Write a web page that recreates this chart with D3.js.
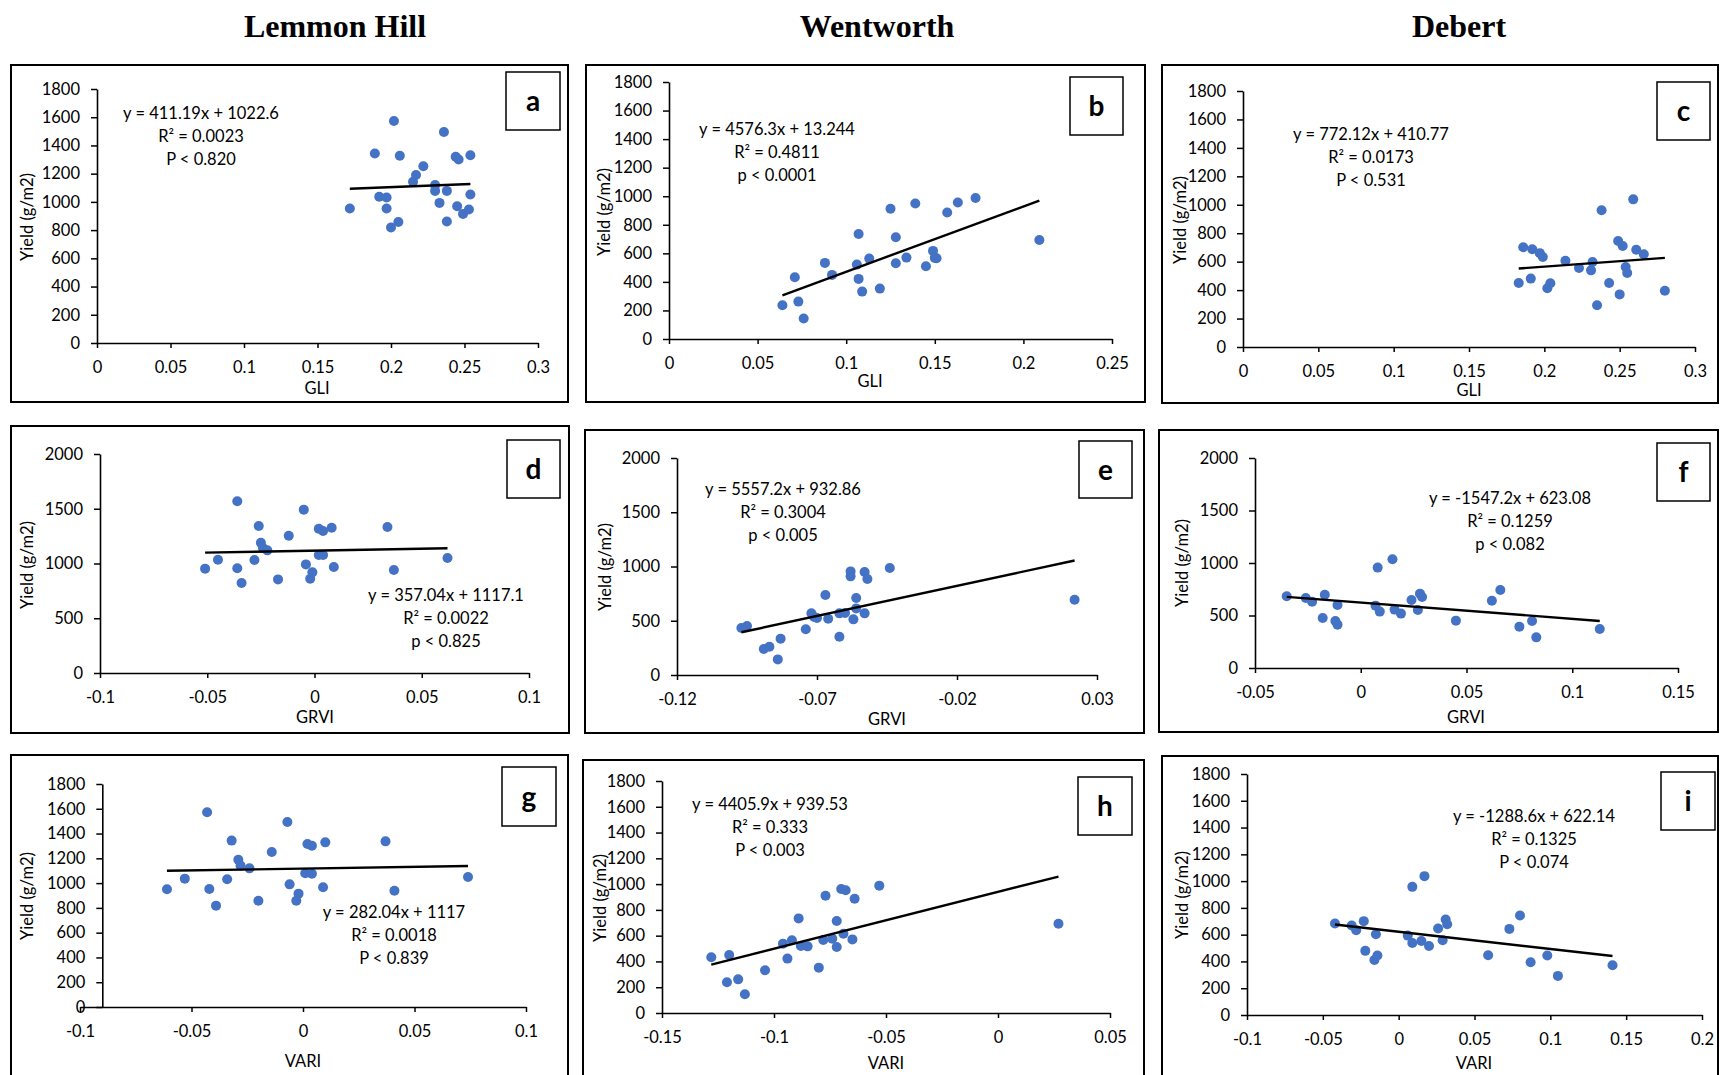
<!DOCTYPE html>
<html>
<head>
<meta charset="utf-8">
<script src="https://cdn.jsdelivr.net/npm/d3@7"></script>
<style>
  body { margin: 0; background: #fff; }
  svg { display: block; }
</style>
</head>
<body>
<svg id="fig" width="1720" height="1075"></svg>
<script>
// ---- Site names (column headings) ----
const sites = ["Lemmon Hill", "Wentworth", "Debert"];

// ---- Axis tick values ----
const gliTicksWide = [0, 0.05, 0.1, 0.15, 0.2, 0.25, 0.3];
const gliTicksNarrow = [0, 0.05, 0.1, 0.15, 0.2, 0.25];
const grviTicksLemmon = [-0.1, -0.05, 0, 0.05, 0.1];
const grviTicksWentworth = [-0.12, -0.07, -0.02, 0.03];
const grviTicksDebert = [-0.05, 0, 0.05, 0.1, 0.15];
const variTicksLemmon = [-0.1, -0.05, 0, 0.05, 0.1];
const variTicksWentworth = [-0.15, -0.1, -0.05, 0, 0.05];
const variTicksDebert = [-0.1, -0.05, 0, 0.05, 0.1, 0.15, 0.2];
const yieldTicks1800 = [0, 200, 400, 600, 800, 1000, 1200, 1400, 1600, 1800];
const yieldTicks2000 = [0, 500, 1000, 1500, 2000];

// ---- (a) GLI vs yield, Lemmon Hill ----
const gliLemmon = [0.172,0.189,0.192,0.197,0.197,0.200,0.202,0.205,0.206,0.215,0.217,0.222,0.230,0.230,0.233,0.236,0.238,0.238,0.244,0.246,0.245,0.249,0.253,0.254,0.254];
const yieldGliLemmon = [953,1343,1036,1031,953,818,1573,858,1327,1142,1190,1253,1119,1078,993,1495,1078,861,1320,1300,969,915,946,1331,1052];

// ---- (b) GLI vs yield, Wentworth ----
const gliWentworth = [0.064,0.071,0.073,0.076,0.088,0.092,0.106,0.107,0.107,0.109,0.113,0.119,0.125,0.128,0.128,0.134,0.139,0.145,0.149,0.150,0.151,0.157,0.163,0.173,0.209];
const yieldGliWentworth = [236,433,262,143,533,449,521,736,421,332,563,353,912,713,531,570,949,510,617,568,565,886,956,987,694];

// ---- (c) GLI vs yield, Debert ----
const gliDebert = [0.183,0.186,0.191,0.192,0.197,0.199,0.202,0.204,0.214,0.223,0.231,0.232,0.235,0.238,0.243,0.249,0.250,0.252,0.254,0.255,0.259,0.261,0.266,0.280];
const yieldGliDebert = [450,701,481,687,660,633,413,448,607,556,539,598,293,961,450,745,370,710,563,520,1038,684,652,396];

// ---- (d) GRVI vs yield, Lemmon Hill ----
const grviLemmon = [-0.051,-0.045,-0.036,-0.036,-0.034,-0.028,-0.026,-0.025,-0.024,-0.022,-0.017,-0.012,-0.005,-0.004,-0.002,-0.001,0.002,0.002,0.004,0.004,0.008,0.009,0.034,0.037,0.062];
const yieldGrviLemmon = [953,1035,1568,956,822,1032,1342,1190,1141,1120,855,1254,1492,992,860,919,1318,1078,1297,1078,1327,968,1333,941,1050];

// ---- (e) GRVI vs yield, Wentworth ----
const grviWentworth = [-0.097,-0.095,-0.089,-0.087,-0.083,-0.084,-0.074,-0.072,-0.071,-0.070,-0.067,-0.066,-0.062,-0.062,-0.060,-0.058,-0.058,-0.057,-0.056,-0.056,-0.053,-0.053,-0.052,-0.044,0.022];
const yieldGrviWentworth = [433,452,240,261,335,144,421,568,535,525,737,519,353,568,571,955,909,513,710,614,949,568,885,986,694];

// ---- (f) GRVI vs yield, Debert ----
const grviDebert = [-0.035,-0.026,-0.023,-0.018,-0.017,-0.012,-0.011,-0.011,0.007,0.008,0.009,0.015,0.016,0.019,0.024,0.027,0.028,0.029,0.045,0.062,0.066,0.075,0.081,0.083,0.113];
const yieldGrviDebert = [683,667,632,476,698,448,413,600,594,956,537,1035,556,518,648,552,708,676,451,641,743,394,448,292,371];

// ---- (g) VARI vs yield, Lemmon Hill ----
const variLemmon = [-0.061,-0.053,-0.043,-0.042,-0.039,-0.034,-0.032,-0.029,-0.028,-0.024,-0.020,-0.014,-0.007,-0.006,-0.003,-0.002,0.001,0.002,0.004,0.004,0.009,0.010,0.037,0.041,0.074];
const yieldVariLemmon = [950,1036,1572,953,818,1031,1343,1189,1141,1119,858,1251,1493,990,858,915,1079,1316,1302,1076,966,1329,1337,939,1049];

// ---- (h) VARI vs yield, Wentworth ----
const variWentworth = [-0.128,-0.121,-0.120,-0.116,-0.113,-0.104,-0.096,-0.094,-0.092,-0.089,-0.088,-0.085,-0.080,-0.078,-0.077,-0.074,-0.072,-0.072,-0.070,-0.069,-0.068,-0.065,-0.064,-0.053,0.027];
const yieldVariWentworth = [432,238,450,261,145,331,538,422,564,734,520,517,352,566,910,577,714,512,962,615,952,571,887,988,693];

// ---- (i) VARI vs yield, Debert ----
const variDebert = [-0.042,-0.031,-0.028,-0.023,-0.022,-0.016,-0.014,-0.015,0.006,0.009,0.009,0.015,0.017,0.020,0.026,0.029,0.031,0.032,0.059,0.073,0.080,0.087,0.098,0.105,0.141];
const yieldVariDebert = [683,668,633,701,479,411,444,603,593,957,538,553,1037,516,646,558,713,678,446,643,743,394,444,292,371];

// ---- Linear fits, panels a..i ----
const panelLetters = ["a", "b", "c", "d", "e", "f", "g", "h", "i"];
const slopes = [411.19, 4576.3, 772.12, 357.04, 5557.2, -1547.2, 282.04, 4405.9, -1288.6];
const intercepts = [1022.6, 13.244, 410.77, 1117.1, 932.86, 623.08, 1117, 939.53, 622.14];
const rSquared = ["0.0023", "0.4811", "0.0173", "0.0022", "0.3004", "0.1259", "0.0018", "0.333", "0.1325"];
const pLabels = ["P < 0.820", "p < 0.0001", "P < 0.531", "p < 0.825", "p < 0.005", "p < 0.082", "P < 0.839", "P < 0.003", "P < 0.074"];
const xTitles = ["GLI", "GLI", "GLI", "GRVI", "GRVI", "GRVI", "VARI", "VARI", "VARI"];

// Panel geometry in page pixels
const layouts = [
  { frame: [11, 65, 568, 402],   xr: [97, 538],    yr: [343, 89],   box: [506, 72, 560, 130],   eq: [201, 113],  xlab: [317, 388],  ylab: [27, 217] },
  { frame: [586, 65, 1145, 402], xr: [669, 1112],  yr: [339, 82],   box: [1070, 77, 1123, 135], eq: [777, 129],  xlab: [870, 381],  ylab: [604, 212] },
  { frame: [1162, 65, 1718, 403],xr: [1243, 1695], yr: [347, 91],   box: [1657, 82, 1710, 140], eq: [1371, 134], xlab: [1469, 390], ylab: [1180, 220] },
  { frame: [11, 426, 569, 733],  xr: [100, 529],   yr: [673, 454],  box: [507, 440, 560, 498],  eq: [446, 595],  xlab: [315, 717],  ylab: [27, 565] },
  { frame: [585, 430, 1144, 733],xr: [677, 1097],  yr: [675, 458],  box: [1079, 441, 1132, 498],eq: [783, 489],  xlab: [887, 719],  ylab: [605, 567] },
  { frame: [1159, 430, 1718, 732],xr: [1255, 1678],yr: [668, 458],  box: [1657, 443, 1710, 501],eq: [1510, 498], xlab: [1466, 717], ylab: [1182, 563] },
  { frame: [11, 755, 568, 1095], xr: [80, 526],    yr: [1007, 784], box: [502, 767, 556, 826],  eq: [394, 912],  xlab: [303, 1061], ylab: [27, 896], yAxisAt: -0.09 },
  { frame: [583, 760, 1144, 1095],xr: [662, 1110], yr: [1013, 781], box: [1078, 777, 1132, 835],eq: [770, 804],  xlab: [886, 1063], ylab: [600, 898] },
  { frame: [1162, 756, 1718, 1095],xr: [1247, 1702],yr: [1015, 774],box: [1661, 772, 1715, 830],eq: [1534, 816], xlab: [1474, 1063], ylab: [1182, 895] }
];

const panelData = [
  { xs: gliLemmon,      ys: yieldGliLemmon,      xTicks: gliTicksWide,       yTicks: yieldTicks1800 },
  { xs: gliWentworth,   ys: yieldGliWentworth,   xTicks: gliTicksNarrow,     yTicks: yieldTicks1800 },
  { xs: gliDebert,      ys: yieldGliDebert,      xTicks: gliTicksWide,       yTicks: yieldTicks1800 },
  { xs: grviLemmon,     ys: yieldGrviLemmon,     xTicks: grviTicksLemmon,    yTicks: yieldTicks2000 },
  { xs: grviWentworth,  ys: yieldGrviWentworth,  xTicks: grviTicksWentworth, yTicks: yieldTicks2000 },
  { xs: grviDebert,     ys: yieldGrviDebert,     xTicks: grviTicksDebert,    yTicks: yieldTicks2000 },
  { xs: variLemmon,     ys: yieldVariLemmon,     xTicks: variTicksLemmon,    yTicks: yieldTicks1800 },
  { xs: variWentworth,  ys: yieldVariWentworth,  xTicks: variTicksWentworth, yTicks: yieldTicks1800 },
  { xs: variDebert,     ys: yieldVariDebert,     xTicks: variTicksDebert,    yTicks: yieldTicks1800 }
];

const FONT = "Lato, 'Open Sans', sans-serif";
const FONT_SIZE = 16.5;
const MARKER = "#4472C4";
const svg = d3.select("#fig");

// Column headings
const headingX = [335, 877, 1459];
svg.selectAll("text.site")
  .data(sites)
  .join("text")
  .attr("class", "site")
  .attr("x", (d, i) => headingX[i])
  .attr("y", 37)
  .attr("text-anchor", "middle")
  .attr("font-family", "'Liberation Serif', 'Times New Roman', serif")
  .attr("font-weight", "bold")
  .attr("font-size", 32)
  .text(d => d);

const fmt = d => String(d);

function styleAxis(sel) {
  sel.select(".domain").attr("stroke", "#000").attr("stroke-width", 1.6);
  sel.selectAll(".tick line").attr("stroke", "#000").attr("stroke-width", 1.5);
  sel.selectAll(".tick text")
    .attr("fill", "#000")
    .attr("font-family", FONT)
    .attr("font-size", FONT_SIZE);
}

function drawPanel(i) {
  const L = layouts[i];
  const D = panelData[i];
  const g = svg.append("g").attr("class", "panel-" + panelLetters[i]);

  // outer frame
  g.append("rect")
    .attr("x", L.frame[0]).attr("y", L.frame[1])
    .attr("width", L.frame[2] - L.frame[0])
    .attr("height", L.frame[3] - L.frame[1])
    .attr("fill", "#fff").attr("stroke", "#000").attr("stroke-width", 2);

  const x = d3.scaleLinear()
    .domain([D.xTicks[0], D.xTicks[D.xTicks.length - 1]])
    .range(L.xr);
  const y = d3.scaleLinear()
    .domain([0, D.yTicks[D.yTicks.length - 1]])
    .range(L.yr);

  const yAxisX = L.yAxisAt !== undefined ? x(L.yAxisAt) : L.xr[0];

  g.append("g")
    .attr("transform", `translate(0,${L.yr[0]})`)
    .call(d3.axisBottom(x).tickValues(D.xTicks).tickFormat(fmt)
      .tickSize(5).tickSizeOuter(0).tickPadding(13))
    .call(styleAxis);

  g.append("g")
    .attr("transform", `translate(${yAxisX},0)`)
    .call(d3.axisLeft(y).tickValues(D.yTicks).tickFormat(fmt)
      .tickSize(6).tickSizeOuter(0).tickPadding(11))
    .call(styleAxis);

  // scatter markers
  g.append("g")
    .selectAll("circle")
    .data(d3.zip(D.xs, D.ys))
    .join("circle")
    .attr("cx", d => x(d[0]))
    .attr("cy", d => y(d[1]))
    .attr("r", 5)
    .attr("fill", MARKER);

  // fitted line over the observed range
  const [xMin, xMax] = d3.extent(D.xs);
  const fit = v => slopes[i] * v + intercepts[i];
  g.append("line")
    .attr("x1", x(xMin)).attr("y1", y(fit(xMin)))
    .attr("x2", x(xMax)).attr("y2", y(fit(xMax)))
    .attr("stroke", "#000").attr("stroke-width", 2.4);

  // equation block
  const sign = intercepts[i] < 0 ? " - " : " + ";
  const lines = [
    `y = ${slopes[i]}x${sign}${Math.abs(intercepts[i])}`,
    `R\u00B2 = ${rSquared[i]}`,
    pLabels[i]
  ];
  g.append("g").selectAll("text")
    .data(lines)
    .join("text")
    .attr("x", L.eq[0])
    .attr("y", (d, k) => L.eq[1] + k * 23)
    .attr("dy", "0.36em")
    .attr("text-anchor", "middle")
    .attr("font-family", FONT)
    .attr("font-size", FONT_SIZE)
    .attr("fill", "#000")
    .text(d => d);

  // axis titles
  g.append("text")
    .attr("x", L.xlab[0]).attr("y", L.xlab[1])
    .attr("dy", "0.36em")
    .attr("text-anchor", "middle")
    .attr("font-family", FONT).attr("font-size", FONT_SIZE)
    .text(xTitles[i]);

  g.append("text")
    .attr("transform", `translate(${L.ylab[0]},${L.ylab[1]}) rotate(-90)`)
    .attr("dy", "0.36em")
    .attr("text-anchor", "middle")
    .attr("font-family", FONT).attr("font-size", FONT_SIZE)
    .text("Yield (g/m2)");

  // panel letter box
  g.append("rect")
    .attr("x", L.box[0]).attr("y", L.box[1])
    .attr("width", L.box[2] - L.box[0])
    .attr("height", L.box[3] - L.box[1])
    .attr("fill", "#fff").attr("stroke", "#000").attr("stroke-width", 1.5);
  g.append("text")
    .attr("x", (L.box[0] + L.box[2]) / 2)
    .attr("y", (L.box[1] + L.box[3]) / 2)
    .attr("dy", "0.36em")
    .attr("text-anchor", "middle")
    .attr("font-family", FONT)
    .attr("font-weight", "bold")
    .attr("font-size", 28)
    .text(panelLetters[i]);
}

d3.range(9).forEach(drawPanel);
</script>
</body>
</html>
